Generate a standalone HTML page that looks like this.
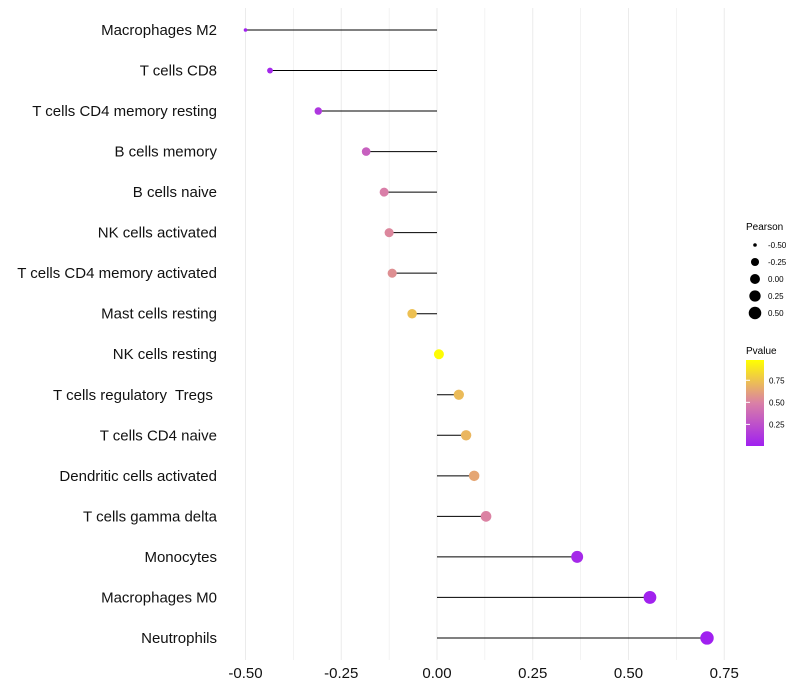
<!DOCTYPE html>
<html><head><meta charset="utf-8"><style>
body{margin:0;background:#fff;}
svg{display:block;font-family:"Liberation Sans",sans-serif;}
text{white-space:pre;}
</style></head><body>
<svg id="c" width="800" height="700" xmlns="http://www.w3.org/2000/svg">
<defs><linearGradient id="pg" x1="0" y1="1" x2="0" y2="0">
<stop offset="0" stop-color="#A020F0"/><stop offset="0.5" stop-color="#DA80A6"/><stop offset="1" stop-color="#FFFF00"/></linearGradient></defs>
<g id="grid"></g>
<g id="marks"></g>
<g id="axes"></g>
<g>
<text x="746" y="230" font-size="10">Pearson</text>
<g id="sizeleg"></g>
</g>
<g>
<text x="746" y="354" font-size="10">Pvalue</text>
<rect x="746" y="360" width="18" height="86" fill="url(#pg)"/>
<g id="colleg"></g>
</g>
</svg>
<script>
const cells=["Macrophages M2","T cells CD8","T cells CD4 memory resting","B cells memory","B cells naive","NK cells activated","T cells CD4 memory activated","Mast cells resting","NK cells resting","T cells regulatory  Tregs ","T cells CD4 naive","Dendritic cells activated","T cells gamma delta","Monocytes","Macrophages M0","Neutrophils"];
const pearson=[-0.50,-0.436,-0.31,-0.185,-0.138,-0.125,-0.117,-0.065,0.005,0.057,0.076,0.097,0.128,0.366,0.556,0.705];
const pvalue=[0.01,0.04,0.12,0.33,0.48,0.52,0.55,0.74,0.97,0.72,0.7,0.64,0.5,0.05,0.015,0.005];
const xTicks=[-0.5,-0.25,0,0.25,0.5,0.75];
const xTickLabels=["-0.50","-0.25","0.00","0.25","0.50","0.75"];
const sizeLegend=[-0.5,-0.25,0,0.25,0.5];
const colLegend=[0.25,0.5,0.75];
const NS="http://www.w3.org/2000/svg";
const x=v=>437+v*383;
const y=i=>30+i*40.53;
const r=v=>1.8+4.9*Math.sqrt(Math.max(0,(v+0.5)/1.2));
const pMin=0.005,pMax=0.98;
function lerp(a,b,t){return a.map((c,i)=>Math.round(c+(b[i]-c)*t));}
function col(p){let t=Math.max(0,Math.min(1,(p-pMin)/(pMax-pMin)));const A=[160,32,240],M=[218,128,166],B=[255,255,0];const c=t<0.5?lerp(A,M,t*2):lerp(M,B,(t-0.5)*2);return `rgb(${c})`;}
const cb=p=>446-(p-pMin)/(pMax-pMin)*86;
function el(t,a,parent,txt){const e=document.createElementNS(NS,t);for(const k in a)e.setAttribute(k,a[k]);if(txt!==undefined)e.textContent=txt;document.getElementById(parent).appendChild(e);return e;}
for(let v=-0.5;v<=0.751;v+=0.125){const g=el("line",{x1:x(v),x2:x(v),y1:8,y2:660,stroke:"#ebebeb","stroke-width":Math.abs((v*4)%1)<0.01?1:0.6},"grid");

}
cells.forEach((c,i)=>{
const l=el("line",{x1:x(0),x2:x(pearson[i]),y1:y(i),y2:y(i),stroke:"#000","stroke-width":1},"marks");


const d=el("circle",{cx:x(pearson[i]),cy:y(i),r:r(pearson[i]),fill:col(pvalue[i])},"marks");


const t=el("text",{x:217,y:y(i)+5,"font-size":15,"text-anchor":"end",fill:"#111"},"axes",c);


});
xTicks.forEach((v,i)=>{const t=el("text",{x:x(v),y:678,"font-size":15,"text-anchor":"middle",fill:"#111"},"axes",xTickLabels[i]);

});
sizeLegend.forEach((v,i)=>{const cy=245+i*17;
const c=el("circle",{cx:755,cy:cy,r:r(v),fill:"#000"},"sizeleg");


const t=el("text",{x:768,y:cy+3,"font-size":8},"sizeleg",v.toFixed(2));

});
colLegend.forEach(p=>{const yy=cb(p);
const k=el("line",{x1:746,x2:750,y1:yy,y2:yy,stroke:"#fff"},"colleg");


const t=el("text",{x:769,y:yy+3,"font-size":8},"colleg",p.toFixed(2));

});
</script>
</body></html>
